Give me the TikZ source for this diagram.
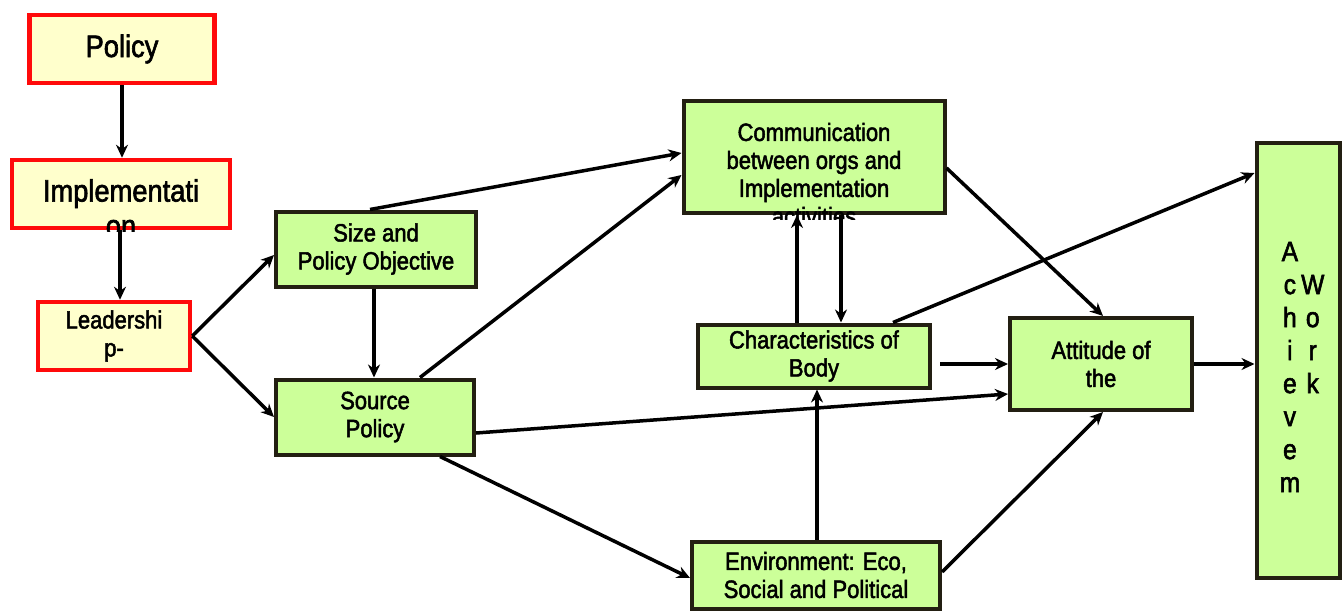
\documentclass[tikz,border=0pt]{standalone}
\usepackage{fontspec}
\setmainfont[FakeStretch=0.88, FakeBold=2]{Liberation Sans}
\usetikzlibrary{arrows.meta}

\definecolor{boxred}{HTML}{FF0A0A}
\definecolor{boxyellow}{HTML}{FFFFCC}
\definecolor{boxgreen}{HTML}{CCFF99}
\definecolor{boxedge}{HTML}{231F12}

\tikzset{
  redbox/.style={draw=boxred, line width=4.5pt, fill=boxyellow, inner sep=0pt, align=center},
  greenbox/.style={draw=boxedge, line width=4pt, fill=boxgreen, inner sep=0pt, align=center,
    font=\fontsize{25}{28}\selectfont},
  arr/.style={draw=black, line width=3.5pt, -{Stealth[length=13pt,width=12pt]}}
}

\begin{document}
\begin{tikzpicture}[x=1pt, y=-1pt]
\useasboundingbox (0,0) rectangle (1343,610);

% left column
\node[redbox, minimum width=185, minimum height=68, font=\fontsize{31}{34}\selectfont] (policy) at (122,49) {Policy};
\node[redbox, minimum width=218, minimum height=68] (impl) at (121,194) {};
\begin{scope}
\clip (0,150) rectangle (260,231);
\node[align=center, inner sep=0pt, font=\fontsize{31}{35}\selectfont] (impltxt) at (121,208) {Implementati\\on};
\end{scope}
\node[redbox, minimum width=152, minimum height=68, font=\fontsize{25}{28}\selectfont] (lead) at (114,336) {Leadershi\\p-};

% middle boxes
\node[greenbox, minimum width=200, minimum height=75] (size) at (376,249) {Size and\\Policy Objective};
\node[greenbox, minimum width=198, minimum height=75] (src) at (375,417) {Source\\Policy};
\node[greenbox, minimum width=261, minimum height=112] (comm) at (814,157) {};
\begin{scope}
\clip (600,90) rectangle (1000,219);
\node[align=center, inner sep=0pt, font=\fontsize{25}{28}\selectfont] (commtxt) at (814,174) {Communication\\between orgs and\\Implementation\\activities};
\end{scope}
\node[greenbox, minimum width=232, minimum height=63] (char) at (814,356) {Characteristics of\\Body};
\node[greenbox, minimum width=248, minimum height=67] (env) at (816,575) {Environment: Eco,\\Social and Political};
\node[greenbox, minimum width=182, minimum height=92] (att) at (1101,364) {Attitude of\\the};

% right column
\node[greenbox, minimum width=83, minimum height=435, font=\fontsize{28}{33}\selectfont] (ach) at (1298,360)
  {\hspace{8pt}\raisebox{-10pt}[\height][\depth]{\begin{tabular}{@{}c@{\hspace{1pt}}c@{}}A & \\ c & W\\ h & o\\ i & r\\ e & k\\ v & \\ e & \\ m & \end{tabular}}};

% connectors
\draw[arr] (policy.south) -- (policy.south |- impl.north);
\draw[arr] ([xshift=-1pt]impl.south) -- ([xshift=-1pt]impl.south |- lead.north);
\draw[arr] (lead.east) -- ([yshift=-6pt]size.west);
\draw[arr] (lead.east) -- (src.west);
\draw[arr] ([xshift=-2pt]size.south) -- ([xshift=-2pt]size.south |- src.north);
\draw[arr] ([xshift=-6pt]size.north) -- ([yshift=4pt]comm.west);
\draw[arr] ([xshift=45pt]src.north) -- ([yshift=-18pt]comm.west);
\draw[arr] ([yshift=-16pt]src.east) -- ([yshift=-30pt]att.west);
\draw[arr] ([xshift=65pt]src.south) -- ([yshift=-3pt]env.west);
\draw[arr] ([xshift=-17pt]char.north) -- ([xshift=-17pt]char.north |- comm.south);
\draw[arr] ([xshift=27pt]comm.south) -- ([xshift=27pt]comm.south |- char.north);
\draw[arr] ([xshift=8pt,yshift=-8pt]char.east) -- (att.west);
\draw[arr] ([xshift=79pt]char.north) -- ([yshift=187pt]ach.west);
\draw[arr] ([yshift=-11pt]comm.east) -- ([xshift=2pt]att.north);
\draw[arr] ([xshift=1pt]env.north) -- ([xshift=1pt]env.north |- char.south);
\draw[arr] ([yshift=3pt]env.east) -- ([xshift=2pt]att.south);
\draw[arr] (att.east) -- (att.east -| ach.west);
\end{tikzpicture}
\end{document}
